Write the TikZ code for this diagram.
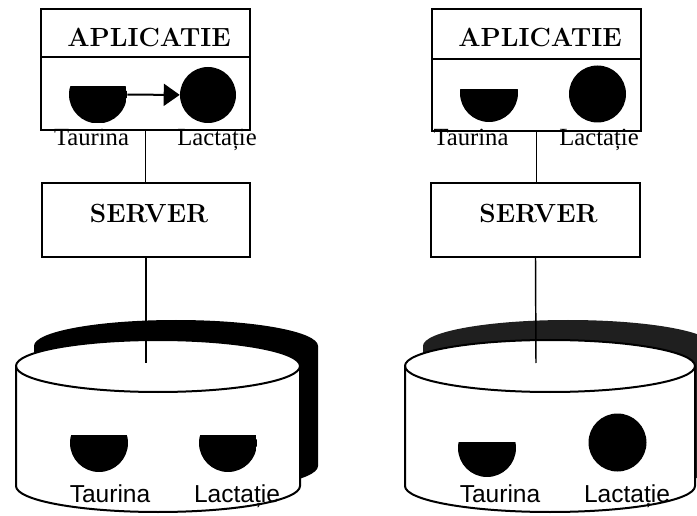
\documentclass[tikz,border=0pt]{standalone}
\usepackage{fontspec}
\newfontfamily\labelserif{Liberation Serif}
\newfontfamily\labelsans{Liberation Sans}
\usetikzlibrary{arrows.meta}
\begin{document}
\begin{tikzpicture}[x=0.75pt, y=0.75pt,
  boxframe/.style={draw, line width=1.4pt, inner sep=0pt},
  boxline/.style={line width=1.4pt},
  ttl/.style={font=\fontsize{19.7}{21}\selectfont\bfseries, anchor=base, inner sep=0pt},
  toplbl/.style={font=\labelserif\fontsize{18.5}{20}\selectfont, anchor=base, inner sep=0pt},
  dblbl/.style={font=\labelsans\fontsize{18.4}{20}\selectfont, anchor=base, inner sep=0pt},
  link/.style={line width=1.1pt},
  flow/.style={line width=1.5pt, -{Triangle[length=12pt, width=16.5pt]}},
  drum/.style={line width=1.5pt},
  drop/.style={circle, fill, inner sep=0pt, minimum size=#1},
  vessel/.style 2 args={circle, inner sep=0pt, minimum size=#1,
    path picture={\fill (path picture bounding box.south west) rectangle ([yshift=#2]path picture bounding box.east);}}
]
\useasboundingbox (0,0) rectangle (697,515);
\clip (0,0) rectangle (697,515);

% ---------------- left: application, server, database ----------------
% database shadow and body
\fill[black] (34,169) arc[start angle=180, end angle=0, x radius=142, y radius=26]
  -- (318,49) arc[start angle=0, end angle=-180, x radius=142, y radius=26] -- cycle;
\filldraw[drum, fill=white] (16,149) arc[start angle=180, end angle=0, x radius=142, y radius=26]
  -- (300,29) arc[start angle=0, end angle=-180, x radius=142, y radius=26] -- cycle;
\draw[drum] (16,149) arc[start angle=180, end angle=360, x radius=142, y radius=26];
\coordinate (dbL) at (146,152);

\node[vessel={43.5pt}{6pt}] (tauDbL) at (99,72) {};
\node[vessel={43.5pt}{6pt}] (lacDbL) at (228,72) {};
\node[dblbl] (tauDbTxtL) at (110,13) {Taurina};
\node[dblbl] (lacDbTxtL) at (237,13) {Lactație};

% application box
\node[boxframe, minimum width=156.75pt, minimum height=90.75pt] (appL) at (145.5,445.5) {};
\coordinate (divL) at (0,458);
\draw[boxline] (appL.west |- divL) -- (appL.east |- divL);
\node[ttl] (appTxtL) at (149,468) {APLICATIE};
\node[vessel={43.5pt}{6pt}] (tauL) at (98,420.5) {};
\node[drop=42pt] (lacL) at (208,420) {};
\draw[flow] (tauL) -- (lacL);
\node[toplbl] (tauTxtL) at (91.5,369) {Taurina};
\node[toplbl] (lacTxtL) at (217,369) {Lactație};

% server box
\node[boxframe, minimum width=156pt, minimum height=55.5pt] (srvL) at (146,295) {};
\node[ttl] (srvTxtL) at (149,292) {SERVER};

\draw[link] (appL.south) -- (appL.south |- srvL.north);
\draw[link] (srvL.south) -- (dbL);

% ---------------- right: application, server, database ----------------
\fill[black!88] (423,169) arc[start angle=180, end angle=0, x radius=145, y radius=26]
  -- (713,49) arc[start angle=0, end angle=-180, x radius=145, y radius=26] -- cycle;
\filldraw[drum, fill=white] (405,149) arc[start angle=180, end angle=0, x radius=145, y radius=26]
  -- (695,29) arc[start angle=0, end angle=-180, x radius=145, y radius=26] -- cycle;
\draw[drum] (405,149) arc[start angle=180, end angle=360, x radius=145, y radius=26];
\coordinate (dbR) at (536,152);

\node[vessel={43.5pt}{4.5pt}] (tauDbR) at (487,67) {};
\node[drop=43.5pt] (lacDbR) at (617.5,72.5) {};
\node[dblbl] (tauDbTxtR) at (500,13) {Taurina};
\node[dblbl] (lacDbTxtR) at (627,13) {Lactație};

\node[boxframe, minimum width=156.75pt, minimum height=91.5pt] (appR) at (536.5,445) {};
\coordinate (divR) at (0,456);
\draw[boxline] (appR.west |- divR) -- (appR.east |- divR);
\node[ttl] (appTxtR) at (540,468) {APLICATIE};
\node[vessel={43.5pt}{3pt}] (tauR) at (489,422) {};
\node[drop=42.75pt] (lacR) at (597.5,421) {};
\node[toplbl] (tauTxtR) at (471,369) {Taurina};
\node[toplbl] (lacTxtR) at (599,369) {Lactație};

\node[boxframe, minimum width=156.75pt, minimum height=55.5pt] (srvR) at (535.5,295) {};
\node[ttl] (srvTxtR) at (538.5,292) {SERVER};

\draw[link] (appR.south) -- (appR.south |- srvR.north);
\draw[link] (srvR.south) -- (dbR);
\end{tikzpicture}
\end{document}
